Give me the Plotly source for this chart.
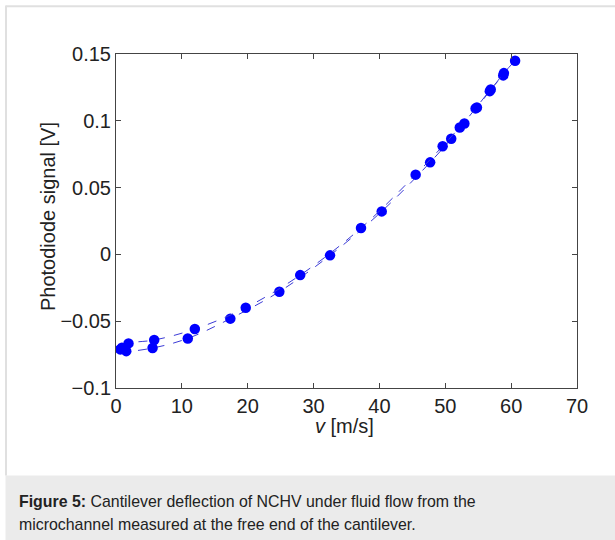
import plotly.graph_objects as go

# Series A (lower branch at low speed)
v_a = [0.65, 1.56, 5.55, 10.9, 17.36, 24.8, 32.5, 40.35, 47.7, 50.9, 54.6, 56.9, 58.8]
s_a = [-0.0711, -0.0724, -0.0701, -0.0629, -0.0481, -0.0279, -0.0007, 0.0322, 0.0689, 0.0866, 0.1093, 0.1235, 0.1340]
# Series B (upper branch at low speed)
v_b = [0.9, 1.9, 5.8, 11.97, 19.7, 27.97, 37.2, 45.5, 49.6, 52.2, 52.9, 54.8, 56.76, 58.9, 60.6]
s_b = [-0.0698, -0.0666, -0.0641, -0.0559, -0.0399, -0.0155, 0.0197, 0.0597, 0.0810, 0.0950, 0.0980, 0.1100, 0.1222, 0.1357, 0.1450]

x_ticks = [0, 10, 20, 30, 40, 50, 60, 70]
y_ticks = [-0.1, -0.05, 0, 0.05, 0.1, 0.15]
y_tick_text = ["\u22120.1", "\u22120.05", "0", "0.05", "0.1", "0.15"]

caption_1 = "<b>Figure 5:</b> Cantilever deflection of NCHV under fluid flow from the"
caption_2 = "microchannel measured at the free end of the cantilever."

FONT = "Liberation Sans, Arial, sans-serif"

fig = go.Figure()
for vx, sy in [(v_a, s_a), (v_b, s_b)]:
    fig.add_trace(go.Scatter(
        x=vx, y=sy, mode="lines+markers",
        line=dict(color="#3b3bd6", width=1, dash="dash", shape="spline"),
        marker=dict(color="#0000ff", size=10.5, line=dict(width=0)),
        showlegend=False, hoverinfo="skip"))

W, H = 615, 540
L, R, T, B = 115.7, 577.5, 54.3, 388.5
pw, ph = R - L, B - T
def px(x):
    return (x - L) / pw
def py(y):
    return (B - y) / ph

shapes = [
    dict(type="rect", xref="paper", yref="paper", x0=px(5), x1=px(616), y0=py(541), y1=py(476),
         fillcolor="#ebebeb", line=dict(width=0), layer="below"),
    dict(type="line", xref="paper", yref="paper", x0=px(5), x1=px(616), y0=py(6.5), y1=py(6.5),
         line=dict(color="#e0e0e0", width=2)),
    dict(type="line", xref="paper", yref="paper", x0=px(5.5), x1=px(5.5), y0=py(6), y1=py(476),
         line=dict(color="#e0e0e0", width=2)),
]

cap_font = dict(family=FONT, size=15.9, color="#222222")
annotations = [
    dict(text=caption_1, xref="paper", yref="paper", x=px(17), y=py(502), xanchor="left",
         yanchor="middle", align="left", showarrow=False, font=cap_font),
    dict(text=caption_2, xref="paper", yref="paper", x=px(17), y=py(525), xanchor="left",
         yanchor="middle", align="left", showarrow=False, font=cap_font),
    dict(text="<i>v</i> [m/s]", xref="paper", yref="paper", x=px(345), y=py(427),
         xanchor="center", yanchor="middle", showarrow=False,
         font=dict(family=FONT, size=20, color="#222222")),
    dict(text="Photodiode signal [V]", xref="paper", yref="paper", x=px(47), y=py(217),
         xanchor="center", yanchor="middle", textangle=-90, showarrow=False,
         font=dict(family=FONT, size=20, color="#222222")),
]

fig.update_layout(
    width=W, height=H,
    margin=dict(l=L, r=W - R, t=T, b=H - B, pad=0),
    paper_bgcolor="white", plot_bgcolor="white",
    shapes=shapes, annotations=annotations,
    font=dict(family=FONT, size=20, color="#222222"),
    xaxis=dict(range=[0, 70], tickvals=x_ticks, ticks="inside", ticklen=5, tickcolor="#444",
               showline=True, linecolor="#444", linewidth=1, mirror="ticks", showgrid=False,
               zeroline=False, tickfont=dict(size=20)),
    yaxis=dict(range=[-0.1, 0.15], tickvals=y_ticks, ticktext=y_tick_text, ticks="inside",
               ticklen=5, tickcolor="#444", showline=True, linecolor="#444", linewidth=1,
               mirror="ticks", showgrid=False, zeroline=False, tickfont=dict(size=20)),
)

fig.write_html("out.html")
